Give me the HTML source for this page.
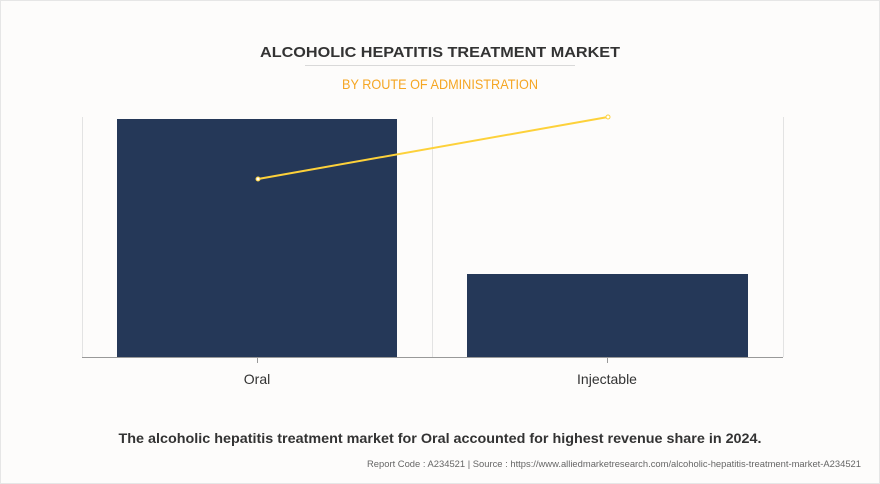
<!DOCTYPE html>
<html><head><meta charset="utf-8"><style>
html,body{margin:0;padding:0;background:#fdfcfb;}
body{width:880px;height:484px;position:relative;overflow:hidden;font-family:"Liberation Sans",sans-serif;}
.frame{position:absolute;left:0;top:0;width:878px;height:482px;border:1px solid #e6e6e6;}
</style></head><body>
<div class="frame"></div>
<svg width="880" height="484" style="position:absolute;left:0;top:0">
<text x="440" y="57" text-anchor="middle" font-weight="bold" font-size="15" fill="#333" textLength="360" lengthAdjust="spacingAndGlyphs">ALCOHOLIC HEPATITIS TREATMENT MARKET</text>
<line x1="305" y1="65.5" x2="575" y2="65.5" stroke="#d9d9d9" stroke-width="1"/>
<text x="440" y="89" text-anchor="middle" font-size="14" fill="#f5a623" textLength="196" lengthAdjust="spacingAndGlyphs">BY ROUTE OF ADMINISTRATION</text>
<g stroke="#e3e3e3" stroke-width="1">
<line x1="82.5" y1="117" x2="82.5" y2="357"/>
<line x1="432.5" y1="117" x2="432.5" y2="357"/>
<line x1="783.5" y1="117" x2="783.5" y2="357"/>
</g>
<rect x="117" y="119" width="280" height="238" fill="#253858"/>
<rect x="467" y="274" width="281" height="83" fill="#253858"/>
<line x1="82" y1="357.5" x2="783" y2="357.5" stroke="#999" stroke-width="1"/>
<line x1="257.5" y1="358" x2="257.5" y2="363" stroke="#999"/>
<line x1="607.5" y1="358" x2="607.5" y2="363" stroke="#999"/>
<line x1="258" y1="179" x2="608" y2="117" stroke="#fdd13a" stroke-width="2"/>
<circle cx="258" cy="179" r="2" fill="#fff" stroke="#fdd13a" stroke-width="1"/>
<circle cx="608" cy="117" r="2" fill="#fff" stroke="#fdd13a" stroke-width="1"/>
<text x="257" y="384" text-anchor="middle" font-size="14" fill="#333">Oral</text>
<text x="607" y="384" text-anchor="middle" font-size="14" fill="#333">Injectable</text>
<text x="440" y="443" text-anchor="middle" font-weight="bold" font-size="14" fill="#333" textLength="643" lengthAdjust="spacingAndGlyphs">The alcoholic hepatitis treatment market for Oral accounted for highest revenue share in 2024.</text>
<text x="861" y="467" text-anchor="end" font-size="9.5" fill="#666" textLength="494" lengthAdjust="spacingAndGlyphs">Report Code : A234521  |  Source : https://www.alliedmarketresearch.com/alcoholic-hepatitis-treatment-market-A234521</text>
</svg>
</body></html>
